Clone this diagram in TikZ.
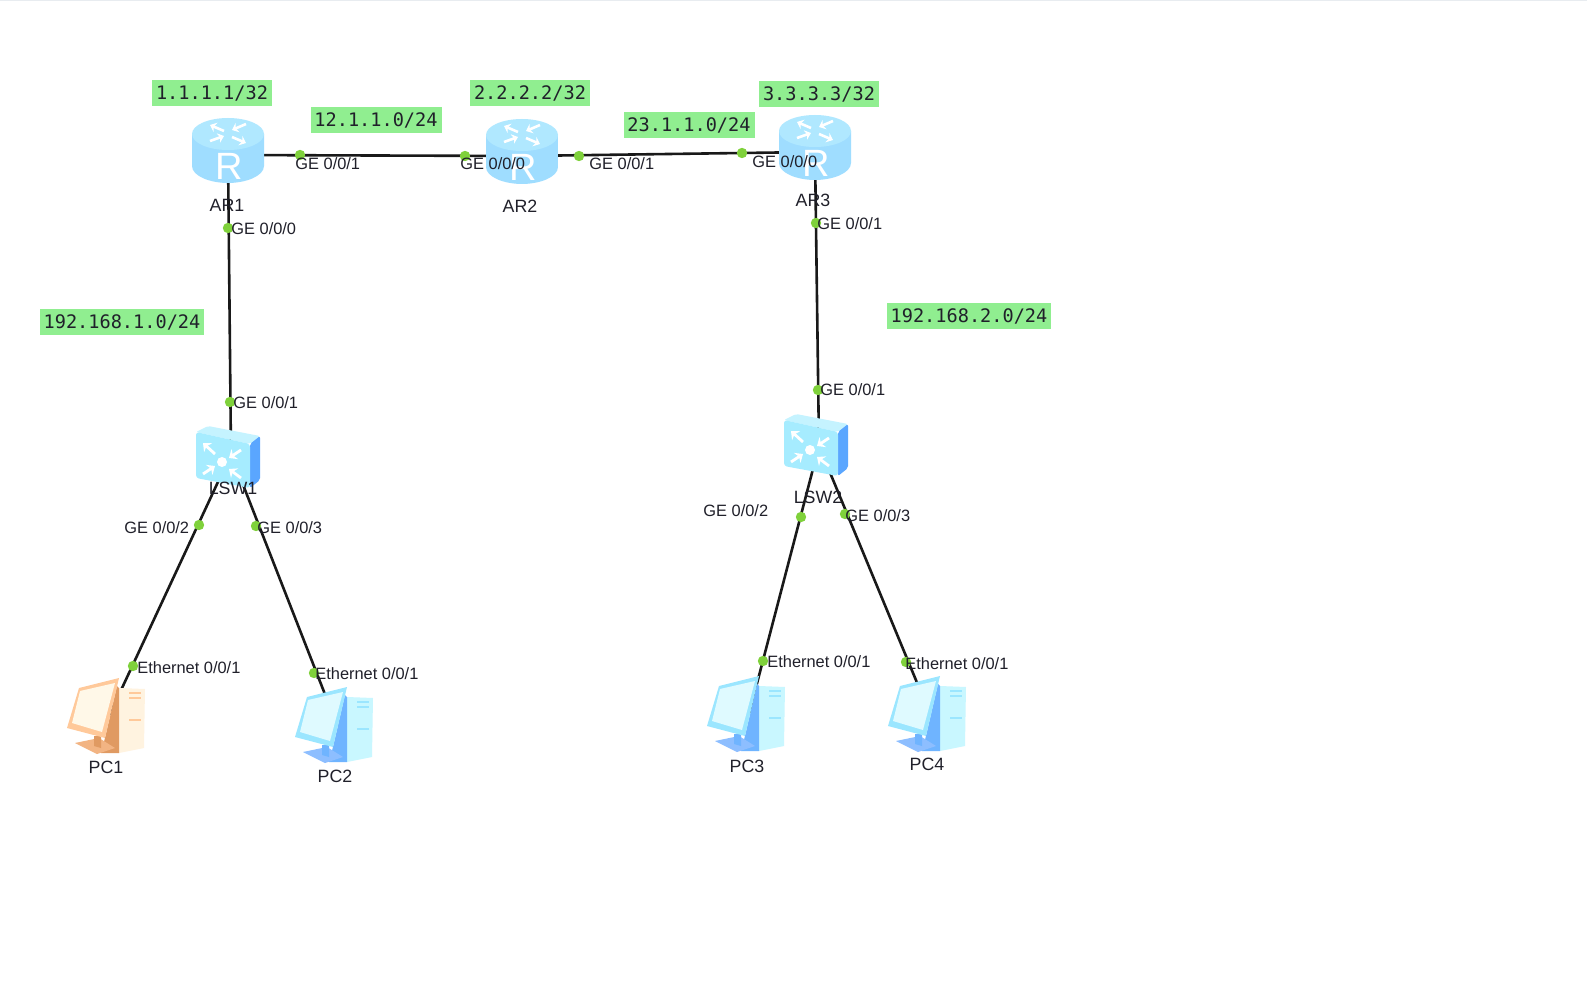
\documentclass[tikz,border=0pt]{standalone}
\usepackage{fontspec}
\setmainfont{Liberation Sans}
\newfontfamily\ipfont{DejaVu Sans Mono}
\usetikzlibrary{arrows.meta}
\definecolor{ipgreen}{HTML}{90EE90}
\definecolor{portgreen}{HTML}{7FD13B}
\definecolor{pagerule}{HTML}{E8ECF0}
\definecolor{labeltext}{HTML}{20202A}
\definecolor{bluetower}{HTML}{C9F7FF}
\definecolor{blueside}{HTML}{6FB4FF}
\definecolor{bluestand}{HTML}{8DBEFF}
\definecolor{bluemonitor}{HTML}{9BE6FF}
\definecolor{bluescreen}{HTML}{DFFAFF}
\definecolor{orangetower}{HTML}{FFF3E0}
\definecolor{orangeside}{HTML}{E09A62}
\definecolor{orangestand}{HTML}{F2B483}
\definecolor{orangemonitor}{HTML}{FFC99A}
\definecolor{orangescreen}{HTML}{FFF8E8}
\definecolor{routeredge}{HTML}{9FDDFF}
\definecolor{routermid}{HTML}{6FBFFF}
\definecolor{routertop}{HTML}{B0E8FF}
\definecolor{switchtop}{HTML}{C5F3FF}
\definecolor{switchfront}{HTML}{A6ECFF}
\definecolor{switchside}{HTML}{5AA6FF}

\begin{document}
\begin{tikzpicture}[
  x=0.5pt, y=-0.5pt,
  every node/.style={font=\fontsize{8.2}{9}\selectfont, text=labeltext},
  devpoint/.style={inner sep=0pt, minimum size=1pt},
  link/.style={line width=1.3pt, black!90},
  portdot/.style={circle, fill=portgreen, inner sep=0pt, minimum size=5.2pt},
  portname/.style={anchor=west, inner sep=0pt},
  devname/.style={inner sep=0pt, font=\fontsize{8.9}{10}\selectfont},
  ipbox/.style={fill=ipgreen, inner sep=0pt, minimum height=13pt,
                font=\ipfont\fontsize{9.3}{10}\selectfont},
  pics/routericon/.style={code={
    \shade[left color=routeredge, middle color=routermid, right color=routeredge, draw=none]
      (-36,-21) -- (-36,11) .. controls (-36,21) and (-18,28) .. (0,28)
      .. controls (18,28) and (36,21) .. (36,11) -- (36,-21) -- cycle;
    \fill[routertop] (0,-21) ellipse [x radius=36, y radius=16];
    \foreach \ax/\ay/\bx/\by in {-4/-24/-18/-30, 18/-31/4/-25, -18/-14/-4/-19, 4/-18/18/-12}
      \draw[white, line width=1.3pt, -{Stealth[length=3pt, width=5pt]}] (\ax,\ay) -- (\bx,\by);
    \node[inner sep=0pt, text=white, font=\fontsize{19}{19}\selectfont] at (1,11) {R};
  }},
  pics/switchicon/.style={code={
    \fill[switchtop, rounded corners=1pt] (-33,-23) -- (-21,-29) -- (31,-19) -- (21,-11) -- cycle;
    \fill[switchside, rounded corners=1pt] (21,-11) -- (31,-19) -- (31,25) -- (21,33) -- cycle;
    \fill[switchfront, rounded corners=1.5pt] (-33,-23) -- (21,-11) -- (21,33) -- (-33,23) -- cycle;
    \fill[white] (-7,7) circle [radius=5];
    \foreach \ax/\ay/\bx/\by in {-14/-1/-26/-12, 12/-5/0/3, -26/19/-14/11, 12/23/0/14}
      \draw[white, line width=1.4pt, -{Stealth[length=3.5pt, width=6pt]}] (\ax,\ay) -- (\bx,\by);
  }},
  pics/pcicon/.style n args={5}{code={
    \fill[#1] (10,-28) -- (36,-27) -- (35,32) -- (10,37) -- cycle;
    \fill[#2] (8,-30) -- (10,-28) -- (10,37) -- (-8,37) -- (-4,22) -- cycle;
    \fill[#3] (-34,27) -- (-10,22) -- (6,32) -- (-12,38) -- cycle;
    \fill[#2] (-15,20) -- (-8,20) -- (-8,32) -- (-15,30) -- cycle;
    \fill[#4] (10,-38) -- (-30,-28) -- (-42,12) -- (-4,22) -- cycle;
    \fill[#5] (6,-33) -- (-29,-25) -- (-37,7) -- (-7,16) -- cycle;
    \foreach \sy in {-23,-18,4}
      \draw[#4, line width=0.6pt] (20,\sy) -- (32,\sy);
  }},
]

\fill[white] (0,0) rectangle (1587,990);
\fill[pagerule] (0,0) rectangle (1587,1.5);

% ---- Device centres ----
\node[devpoint] (AR1) at (228,155) {};
\node[devpoint] (AR2) at (522,156) {};
\node[devpoint] (AR3) at (815,152) {};
\node[devpoint] (LSW1) at (231,454) {};
\node[devpoint] (LSW2) at (819,446) {};
\node[devpoint] (PC1) at (109,716) {};
\node[devpoint] (PC2) at (337,725) {};
\node[devpoint] (PC3) at (749,714) {};
\node[devpoint] (PC4) at (930,714) {};

% ---- Links ----
\draw[link] (AR1) -- (AR2);
\draw[link] (AR2) -- (AR3);
\draw[link] (AR1) -- (LSW1);
\draw[link] (AR3) -- (LSW2);
\draw[link] (LSW1) -- (PC1);
\draw[link] (LSW1) -- (PC2);
\draw[link] (LSW2) -- (PC3);
\draw[link] (LSW2) -- (PC4);

% ---- Icons ----
\pic at (AR1) {routericon};
\pic at (AR2) {routericon};
\pic at (AR3) {routericon};
\pic[shift={(-2,1)}] at (LSW1) {switchicon};
\pic[shift={(-2,-3)}] at (LSW2) {switchicon};
\pic at (PC1) {pcicon={orangetower}{orangeside}{orangestand}{orangemonitor}{orangescreen}};
\pic at (PC2) {pcicon={bluetower}{blueside}{bluestand}{bluemonitor}{bluescreen}};
\pic at (PC3) {pcicon={bluetower}{blueside}{bluestand}{bluemonitor}{bluescreen}};
\pic at (PC4) {pcicon={bluetower}{blueside}{bluestand}{bluemonitor}{bluescreen}};

% ---- Device names ----
\node[devname] (AR1_name) at (227,205) {AR1};
\node[devname] (AR2_name) at (520,206) {AR2};
\node[devname] (AR3_name) at (813,200) {AR3};
\node[devname] (LSW1_name) at (233,488) {LSW1};
\node[devname] (LSW2_name) at (818,497) {LSW2};
\node[devname] (PC1_name) at (106,767) {PC1};
\node[devname] (PC2_name) at (335,776) {PC2};
\node[devname] (PC3_name) at (747,766) {PC3};
\node[devname] (PC4_name) at (927,764) {PC4};

% ---- Ports ----
\node[portdot] (ar1_g1) at (300,155) {};
\node[portdot] (ar1_g0) at (228,228) {};
\node[portdot] (ar2_g0) at (465,156) {};
\node[portdot] (ar2_g1) at (579,156) {};
\node[portdot] (ar3_g0) at (742,153) {};
\node[portdot] (ar3_g1) at (816,223) {};
\node[portdot] (sw1_g1) at (230,402) {};
\node[portdot] (sw1_g2) at (199,525) {};
\node[portdot] (sw1_g3) at (256,526) {};
\node[portdot] (sw2_g1) at (818,390) {};
\node[portdot] (sw2_g2) at (801,517) {};
\node[portdot] (sw2_g3) at (845,514) {};
\node[portdot] (pc1_e1) at (133,666) {};
\node[portdot] (pc2_e1) at (314,673) {};
\node[portdot] (pc3_e1) at (763,661) {};
\node[portdot] (pc4_e1) at (906,662) {};

\node[portname] (ar1_g1_txt) at (295,164) {GE 0/0/1};
\node[portname] (ar1_g0_txt) at (231,229) {GE 0/0/0};
\node[portname] (ar2_g0_txt) at (460,164) {GE 0/0/0};
\node[portname] (ar2_g1_txt) at (589,164) {GE 0/0/1};
\node[portname] (ar3_g0_txt) at (752,162) {GE 0/0/0};
\node[portname] (ar3_g1_txt) at (817,224) {GE 0/0/1};
\node[portname] (sw1_g1_txt) at (233,403) {GE 0/0/1};
\node[portname] (sw1_g2_txt) at (124,528) {GE 0/0/2};
\node[portname] (sw1_g3_txt) at (257,528) {GE 0/0/3};
\node[portname] (sw2_g1_txt) at (820,390) {GE 0/0/1};
\node[portname] (sw2_g2_txt) at (703,511) {GE 0/0/2};
\node[portname] (sw2_g3_txt) at (845,516) {GE 0/0/3};
\node[portname] (pc1_e1_txt) at (137,668) {Ethernet 0/0/1};
\node[portname] (pc2_e1_txt) at (315,674) {Ethernet 0/0/1};
\node[portname] (pc3_e1_txt) at (767,662) {Ethernet 0/0/1};
\node[portname] (pc4_e1_txt) at (905,664) {Ethernet 0/0/1};

% ---- Address tags ----
\node[ipbox, minimum width=60pt] (ip_ar1) at (212,93) {1.1.1.1/32};
\node[ipbox, minimum width=60pt] (ip_ar2) at (530,93) {2.2.2.2/32};
\node[ipbox, minimum width=60pt] (ip_ar3) at (819,94) {3.3.3.3/32};
\node[ipbox, minimum width=65.5pt] (ip_r12) at (376,120) {12.1.1.0/24};
\node[ipbox, minimum width=65.5pt] (ip_r23) at (689,125) {23.1.1.0/24};
\node[ipbox, minimum width=82pt] (ip_lan1) at (122,322) {192.168.1.0/24};
\node[ipbox, minimum width=82pt] (ip_lan2) at (969,316) {192.168.2.0/24};

\end{tikzpicture}
\end{document}
